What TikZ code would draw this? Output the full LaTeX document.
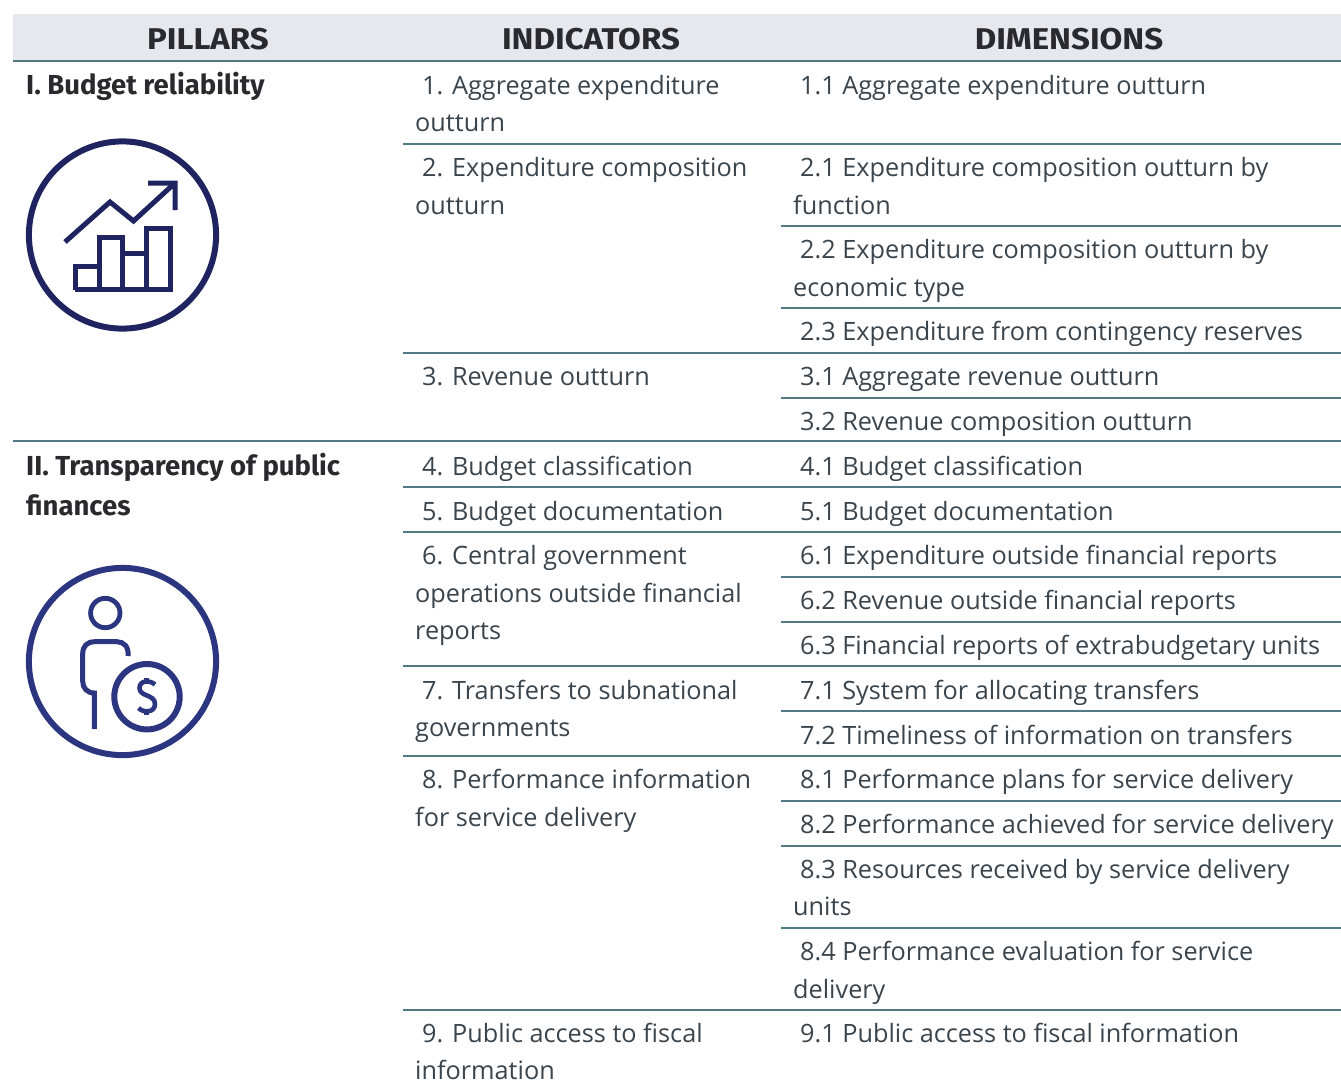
\documentclass[tikz,border=0pt]{standalone}
\usepackage{fontspec}
\setmainfont{Open Sans}
\newfontfamily\boldface{Fira Sans}
\newfontfamily\headface[FakeStretch=1.1]{Fira Sans}
\definecolor{rule}{HTML}{4F7A84}
\definecolor{head}{HTML}{E6E8EE}
\definecolor{ink}{HTML}{3A444C}
\definecolor{dark}{HTML}{2A2A2E}
\definecolor{navy}{HTML}{1F2460}
\definecolor{navb}{HTML}{2B3580}
\begin{document}
\begin{tikzpicture}[x=1pt,y=-1pt,
  lbl/.style={anchor=base west,inner sep=0pt,font=\fontsize{25.25}{28}\selectfont,text=ink},
  hdr/.style={anchor=base,inner sep=0pt,font=\headface\fontsize{30}{32}\selectfont\bfseries,text=dark},
  pil/.style={anchor=base west,inner sep=0pt,font=\boldface\fontsize{27.5}{30}\selectfont\bfseries,text=dark},
  sep/.style={draw=rule,line width=1.8pt}]
\useasboundingbox (0,0) rectangle (1341,1087);
\fill[head] (13,14) rectangle (1341,61);
\draw[sep] (13,61)--(1341,61);
\node[hdr] (h1) at (208,49) {PILLARS};
\node[hdr] (h2) at (591,49) {INDICATORS};
\node[hdr] (h3) at (1069,49) {DIMENSIONS};
\draw[sep] (13,441)--(1341,441);
\foreach \y in {144,353,487,532,666,756,1010} \draw[sep] (403,\y)--(1341,\y);
\foreach \y in {226,308,398,577,622,711,801,846,928} \draw[sep] (781,\y)--(1341,\y);
\node[pil] (p1) at (26,94) {I. Budget reliability};
\node[pil] (p2a) at (26,475) {II. Transparency of public};
\node[pil] (p2b) at (26,515) {finances};
% icon 1
\draw[navy,line width=6pt] (122.5,235) circle (93.6);
\draw[navy,line width=5pt,line join=miter] (75,289.5)--(75,266)--(99,266) (99,289.5)--(99,237)--(122.5,237)--(122.5,289.5) (122.5,253)--(146.5,253) (146.5,289.5)--(146.5,228)--(170.5,228)--(170.5,289.5)--(75,289.5)--cycle;
\draw[navy,line width=5pt,line join=miter] (65,242)--(110,202)--(133.5,221)--(175,183) (148,183)--(175,183)--(175,210);
% icon 2
\draw[navb,line width=6pt] (122.5,661.5) circle (93.6);
\draw[navb,line width=4.8pt] (105.3,613) circle (14.7);
\draw[navb,line width=5pt] (94.3,729)--(94.3,693) .. controls (87,693) and (82.7,688) .. (82.7,681)--(82.7,654) .. controls (82.7,646) and (87,641.7) .. (95,641.7)--(117,641.7) .. controls (124,641.7) and (129,647) .. (128,656);
\draw[navb,line width=6pt] (147,696.7) circle (32.7);
\draw[navb,line width=4.6pt] (155,684.5) .. controls (150,680) and (139.5,680) .. (139.5,688) .. controls (139.5,697) and (155,694) .. (155,704) .. controls (155,713) and (143,713) .. (138.5,708);
\draw[navb,line width=4.6pt] (146.5,678)--(146.5,682) (146.5,710)--(146.5,715);
% text
\foreach \x/\y/\t in {
 422/94/{1. Aggregate expenditure},415/131/{outturn},
 422/176/{2. Expenditure composition},415/214/{outturn},
 422/385/{3. Revenue outturn},
 422/475/{4. Budget classification},
 422/520/{5. Budget documentation},
 422/564/{6. Central government},415/602/{operations outside financial},415/639/{reports},
 422/699/{7. Transfers to subnational},415/736/{governments},
 422/788/{8. Performance information},415/826/{for service delivery},
 422/1042/{9. Public access to fiscal},415/1079/{information},
 800/94/{1.1 Aggregate expenditure outturn},
 800/176/{2.1 Expenditure composition outturn by},793/214/{function},
 800/258/{2.2 Expenditure composition outturn by},793/296/{economic type},
 800/340/{2.3 Expenditure from contingency reserves},
 800/385/{3.1 Aggregate revenue outturn},
 800/430/{3.2 Revenue composition outturn},
 800/475/{4.1 Budget classification},
 800/520/{5.1 Budget documentation},
 800/564/{6.1 Expenditure outside financial reports},
 800/609/{6.2 Revenue outside financial reports},
 800/654/{6.3 Financial reports of extrabudgetary units},
 800/699/{7.1 System for allocating transfers},
 800/744/{7.2 Timeliness of information on transfers},
 800/788/{8.1 Performance plans for service delivery},
 800/833/{8.2 Performance achieved for service delivery},
 800/878/{8.3 Resources received by service delivery},793/915/{units},
 800/960/{8.4 Performance evaluation for service},793/998/{delivery},
 800/1042/{9.1 Public access to fiscal information}}
 {\node[lbl] at (\x,\y) {\t};}
\end{tikzpicture}
\end{document}
